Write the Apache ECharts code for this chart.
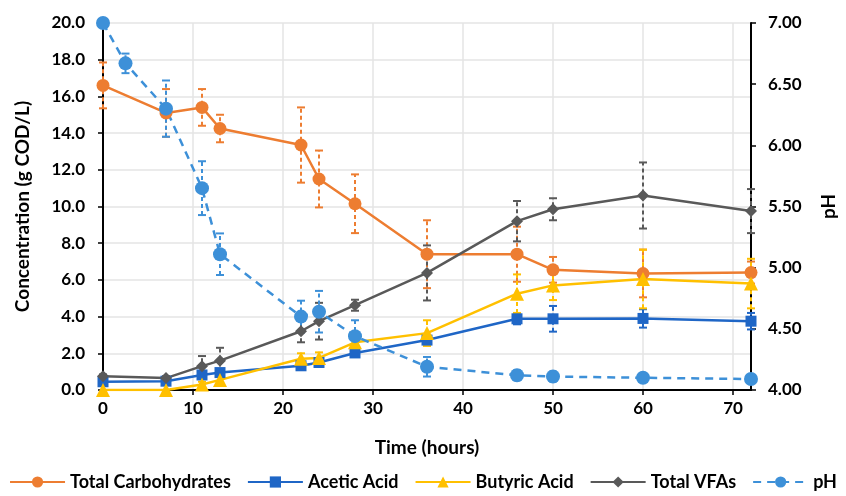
<!DOCTYPE html>
<html>
<head>
<meta charset="utf-8">
<style>
    html, body { margin: 0; padding: 0; background: #fff; }
    #chart { width: 846px; height: 496px; }
</style>
<script src="https://cdn.jsdelivr.net/npm/echarts@6/dist/echarts.min.js"></script>
</head>
<body>
<div id="chart"></div>
<script>
// sampling times (hours)
const timeConc = [0, 7, 11, 13, 22, 24, 28, 36, 46, 50, 60, 72];
const timePH = [0, 2.5, 7, 11, 13, 22, 24, 28, 36, 46, 50, 60, 72];

// concentrations (g COD/L) and their error bars
const carbo = [16.6, 15.1, 15.4, 14.25, 13.35, 11.5, 10.15, 7.4, 7.4, 6.55, 6.35, 6.4];
const carboErr = [1.25, 1.3, 1.0, 0.75, 2.05, 1.55, 1.6, 1.85, 1.5, 0.7, 1.3, 0.6];
const acetic = [0.45, 0.48, 0.82, 0.95, 1.32, 1.5, 2.02, 2.72, 3.88, 3.88, 3.9, 3.75];
const aceticErr = [0.1, 0.1, 0.15, 0.15, 0.15, 0.15, 0.2, 0.25, 0.3, 0.7, 0.5, 0.45];
const butyric = [0, 0, 0.3, 0.55, 1.7, 1.75, 2.6, 3.1, 5.25, 5.7, 6.05, 5.8];
const butyricErr = [0, 0, 0.15, 0.2, 0.3, 0.3, 0.3, 0.7, 1.05, 0.8, 1.6, 1.35];
const vfas = [0.75, 0.65, 1.3, 1.6, 3.2, 3.75, 4.62, 6.38, 9.2, 9.85, 10.6, 9.75];
const vfasErr = [0.1, 0.1, 0.55, 0.7, 0.6, 1.0, 0.3, 1.5, 1.1, 0.6, 1.8, 1.2];

// pH values and error bars
const ph = [7.0, 6.67, 6.3, 5.65, 5.11, 4.6, 4.64, 4.44, 4.19, 4.12, 4.11, 4.1, 4.09];
const phErr = [0, 0.08, 0.23, 0.22, 0.17, 0.13, 0.17, 0.13, 0.08, 0.04, 0.04, 0.01, 0];

const FONT = 'Lato';

function pairs(xs, ys) {
    return xs.map((x, i) => [x, ys[i]]);
}

// error bar as a custom series: dashed vertical line with small caps
function errorSeries(xs, ys, errs, color, yIndex) {
    return {
        type: 'custom',
        yAxisIndex: yIndex,
        silent: true,
        z: 1,
        data: xs.map((x, i) => [x, ys[i] - errs[i], ys[i] + errs[i]]),
        renderItem: function (params, api) {
            const lo = api.coord([api.value(0), api.value(1)]);
            const hi = api.coord([api.value(0), api.value(2)]);
            if (Math.abs(hi[1] - lo[1]) < 1) return null;
            const w = 4;
            const style = { stroke: color, lineWidth: 2, lineDash: [4, 3] };
            const capStyle = { stroke: color, lineWidth: 2 };
            return {
                type: 'group',
                children: [
                    { type: 'line', shape: { x1: lo[0], y1: lo[1], x2: hi[0], y2: hi[1] }, style: style },
                    { type: 'line', shape: { x1: lo[0] - w, y1: lo[1], x2: lo[0] + w, y2: lo[1] }, style: capStyle },
                    { type: 'line', shape: { x1: hi[0] - w, y1: hi[1], x2: hi[0] + w, y2: hi[1] }, style: capStyle }
                ]
            };
        }
    };
}

function lineSeries(name, xs, ys, color, symbol, size, yIndex, dashed) {
    return {
        name: name,
        type: 'line',
        yAxisIndex: yIndex,
        data: pairs(xs, ys),
        symbol: symbol,
        symbolSize: size,
        showSymbol: true,
        z: 3,
        itemStyle: { color: color },
        lineStyle: { color: color, width: 2.5, type: dashed ? [8, 6] : 'solid' }
    };
}

const orange = '#ED7D31';
const blue = '#1F66C6';
const yellow = '#FFC000';
const gray = '#595959';
const lightBlue = '#3D90D8';

const chart = echarts.init(document.getElementById('chart'));
chart.setOption({
    animation: false,
    textStyle: { fontFamily: FONT },
    grid: { left: 103, right: 95, top: 23, bottom: 106 },
    legend: {
        bottom: 0,
        left: 'center',
        itemWidth: 55,
        itemHeight: 14,
        itemGap: 16,
        textStyle: { fontFamily: FONT, fontWeight: 'bold', fontSize: 18, color: '#000' },
        data: ['Total Carbohydrates', 'Acetic Acid', 'Butyric Acid', 'Total VFAs', 'pH']
    },
    xAxis: {
        type: 'value',
        min: 0,
        max: 72,
        interval: 10,
        name: 'Time (hours)',
        nameLocation: 'middle',
        nameGap: 48,
        nameTextStyle: { fontFamily: FONT, fontWeight: 'bold', fontSize: 19, color: '#000' },
        axisLine: { lineStyle: { color: '#000', width: 2 } },
        axisTick: { show: true, length: 5, lineStyle: { color: '#000', width: 1.5 } },
        axisLabel: { fontFamily: FONT, fontWeight: 'bold', fontSize: 17, color: '#000', margin: 10, showMaxLabel: false },
        splitLine: { show: true, lineStyle: { color: '#e4e4e4', width: 1.5 } }
    },
    yAxis: [
        {
            type: 'value',
            min: 0,
            max: 20,
            interval: 2,
            name: 'Concentration (g COD/L)',
            nameLocation: 'middle',
            nameRotate: 90,
            nameGap: 71,
            nameTextStyle: { fontFamily: FONT, fontWeight: 'bold', fontSize: 19, color: '#000' },
            axisLine: { show: true, lineStyle: { color: '#000', width: 2 } },
            axisTick: { show: true, length: 5, lineStyle: { color: '#000', width: 1.5 } },
            axisLabel: { fontFamily: FONT, fontWeight: 'bold', fontSize: 17, color: '#000', margin: 18, formatter: v => v.toFixed(1) },
            splitLine: { show: true, lineStyle: { color: '#e4e4e4', width: 1.5 } }
        },
        {
            type: 'value',
            min: 4,
            max: 7,
            interval: 0.5,
            position: 'right',
            name: 'pH',
            nameLocation: 'middle',
            nameRotate: 90,
            nameGap: 68,
            nameTextStyle: { fontFamily: FONT, fontWeight: 'bold', fontSize: 19, color: '#000' },
            axisLine: { show: true, lineStyle: { color: '#000', width: 2 } },
            axisTick: { show: true, length: 5, lineStyle: { color: '#000', width: 1.5 } },
            axisLabel: { fontFamily: FONT, fontWeight: 'bold', fontSize: 17, color: '#000', margin: 17, formatter: v => v.toFixed(2) },
            splitLine: { show: false }
        }
    ],
    series: [
        errorSeries(timeConc, carbo, carboErr, orange, 0),
        errorSeries(timeConc, acetic, aceticErr, blue, 0),
        errorSeries(timeConc, butyric, butyricErr, yellow, 0),
        errorSeries(timeConc, vfas, vfasErr, gray, 0),
        errorSeries(timePH, ph, phErr, lightBlue, 1),
        lineSeries('Total Carbohydrates', timeConc, carbo, orange, 'circle', 13, 0, false),
        lineSeries('Acetic Acid', timeConc, acetic, blue, 'rect', 11, 0, false),
        lineSeries('Butyric Acid', timeConc, butyric, yellow, 'triangle', 14, 0, false),
        lineSeries('Total VFAs', timeConc, vfas, gray, 'diamond', 12, 0, false),
        lineSeries('pH', timePH, ph, lightBlue, 'circle', 14, 1, true)
    ]
});
</script>
</body>
</html>
